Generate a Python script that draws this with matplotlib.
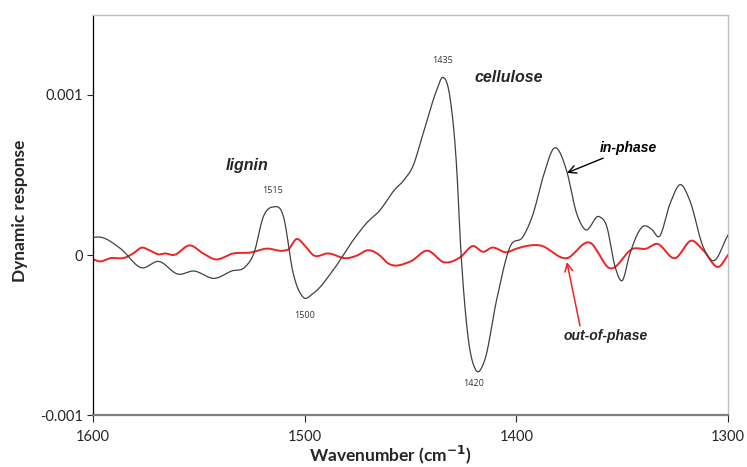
import numpy as np
import matplotlib
matplotlib.use("Agg")
import matplotlib.pyplot as plt

# In-phase (real) dynamic spectrum, wavenumber in cm-1
inphase_wn = [1600, 1596.7, 1587, 1577, 1569, 1559.7, 1552.6, 1542.4, 1534.5, 1528,
              1524, 1519.5, 1515, 1510, 1505.4, 1500.6, 1496, 1486.5, 1477, 1470.7,
              1464.4, 1458, 1453, 1449, 1444, 1437.6, 1434.8, 1431.4, 1428.2, 1426.2, 1423,
              1419.3, 1415, 1409.3, 1403, 1396.8, 1392, 1387.3, 1381.8, 1376.3, 1371.5,
              1367.6, 1360.8, 1357.3, 1353.4, 1350, 1346.3, 1340, 1336, 1332.5, 1327.4,
              1322.4, 1318, 1311.7, 1307, 1300]
inphase = [0.00011, 0.000112, 0.00004, -0.00008, -0.00004, -0.00012, -0.0001, -0.000146,
           -0.0001, -0.000073, 0.00001, 0.00024, 0.0003, 0.00024, -0.000115, -0.000265,
           -0.00024, -0.000094, 0.000094, 0.0002, 0.00028, 0.0004, 0.00047, 0.00055,
           0.00076, 0.00103, 0.00111, 0.00099, 0.00055, 0.00003, -0.00049, -0.000715,
           -0.00066, -0.00028, 0.00005, 0.000115, 0.00026, 0.00049, 0.00067, 0.00053,
           0.00026, 0.00016, 0.00024, 0.00018, -0.00007, -0.00016, 0.00001, 0.00018,
           0.00016, 0.000115, 0.00032, 0.00044, 0.00034, 0.00005, -0.000036, 0.000125]

# Out-of-phase (imaginary) dynamic spectrum
outphase_wn = [1600, 1596.7, 1592, 1585, 1581, 1577, 1573, 1569, 1566, 1562, 1554, 1548,
               1542.4, 1533.7, 1525.8, 1518, 1510, 1507.7, 1503.8, 1500, 1496, 1488.9,
               1480, 1475.4, 1470, 1464.4, 1461, 1450, 1442, 1434, 1426.6, 1420.4,
               1415.6, 1411.6, 1404.6, 1399.9, 1388.8, 1376.3, 1365.2, 1355.8, 1344.8,
               1338.5, 1333.8, 1325, 1317, 1311.7, 1304.2, 1300]
outphase = [-0.000027, -0.00004, -0.00002, -0.000017, 0.00001, 0.000046, 0.000027,
            0.000004, 0.00001, 0.0, 0.00006, 0.00001, -0.000027, 0.00001, 0.000015,
            0.00004, 0.000027, 0.000035, 0.0001, 0.00006, 0.0, 0.00001, -0.00002,
            -0.000004, 0.00003, -0.000004, -0.000048, -0.00004, 0.000027, -0.000046,
            -0.000015, 0.000056, 0.00002, 0.000046, 0.000017, 0.00004, 0.00006,
            -0.00002, 0.000077, -0.000083, 0.00004, 0.00004, 0.00007, -0.00002,
            0.00009, 0.00003, -0.000073, 0.0]

# Labelled band positions
band_wn = [1515, 1500, 1435, 1420]
band_labels = ["1515", "1500", "1435", "1420"]


def smooth(x, y, n=16):
    """Cubic Hermite curve through the points (smoothed line, single-valued in x)."""
    x = np.asarray(x, float)
    y = np.asarray(y, float)
    h = np.diff(x)
    d = np.diff(y) / h
    m = np.empty_like(y)
    m[0], m[-1] = d[0], d[-1]
    m[1:-1] = (d[:-1] * h[1:] + d[1:] * h[:-1]) / (h[:-1] + h[1:])
    t = np.linspace(0, 1, n, endpoint=False)
    h00 = 2 * t**3 - 3 * t**2 + 1
    h10 = t**3 - 2 * t**2 + t
    h01 = -2 * t**3 + 3 * t**2
    h11 = t**3 - t**2
    xs, ys = [], []
    for i in range(len(x) - 1):
        xs.append(x[i] + t * h[i])
        ys.append(h00 * y[i] + h10 * h[i] * m[i] + h01 * y[i + 1] + h11 * h[i] * m[i + 1])
    xs.append([x[-1]])
    ys.append([y[-1]])
    return np.concatenate(xs), np.concatenate(ys)


plt.rcParams["font.family"] = ["Lato", "DejaVu Sans"]

fig = plt.figure(figsize=(7.47, 4.67), dpi=100)
ax = fig.add_axes([0.1245, 0.1113, 0.85, 0.8566])

sx, sy = smooth(inphase_wn, inphase)
ax.plot(sx, sy, color="#404040", lw=0.9, zorder=3)
rx, ry = smooth(outphase_wn, outphase)
ax.plot(rx, ry, color="#ee2424", lw=1.4, zorder=2)

ax.set_xlim(1600, 1300)
ax.set_ylim(-0.001, 0.0015)
ax.set_xticks([1600, 1500, 1400, 1300])
ax.set_yticks([-0.001, 0, 0.001])
ax.set_yticklabels(["-0.001", "0", "0.001"])
ax.tick_params(axis="both", direction="out", labelsize=10.5, colors="#262626", width=0.8)
ax.tick_params(axis="x", length=5, pad=6)
ax.tick_params(axis="y", length=4, pad=3)

ax.spines["left"].set_color("#000000")
ax.spines["left"].set_linewidth(0.9)
ax.spines["bottom"].set_color("#7f7f7f")
ax.spines["bottom"].set_linewidth(1.6)
for s in ("top", "right"):
    ax.spines[s].set_color("#bfbfbf")
    ax.spines[s].set_linewidth(1.0)

ax.set_ylabel("Dynamic response", fontsize=12.5, fontweight="bold", color="#262626")
ax.yaxis.set_label_coords(-0.103, 0.51)
ax.set_xlabel("Wavenumber (cm$^{\\mathbf{-1}}$)", fontsize=12.5, fontweight="bold",
              color="#262626")
ax.xaxis.set_label_coords(0.469, -0.072)

# Band position labels beside the peaks and troughs of the in-phase curve
band_val = np.interp(band_wn, sx[::-1], sy[::-1])
offsets = [9, -9, 9, -9]
for wn, v, lab, off in zip(band_wn, band_val, band_labels, offsets):
    ax.annotate(lab, (wn, v), xytext=(0, off), textcoords="offset points",
                ha="center", va="bottom" if off > 0 else "top",
                fontsize=6.5, color="#333333", family="Open Sans")

ax.text(1527, 0.00056, "lignin", fontsize=11.5, fontweight="bold", style="italic",
        family="Liberation Sans", color="#262626", ha="center", va="center")
ax.text(1403.5, 0.00111, "cellulose", fontsize=11.5, fontweight="bold", style="italic",
        family="Liberation Sans", color="#262626", ha="center", va="center")

ax.annotate("in-phase", xy=(1376.1, 0.000513), xytext=(1360.5, 0.00067),
            fontsize=10, fontweight="bold", style="italic", family="Liberation Sans",
            color="#000000", ha="left", va="center",
            arrowprops=dict(arrowstyle="->", color="#000000", lw=1.0,
                            shrinkA=1, shrinkB=0, mutation_scale=14))
ax.annotate("out-of-phase", xy=(1376.1, -0.000044), xytext=(1357.7, -0.00046),
            fontsize=10, fontweight="bold", style="italic", family="Liberation Sans",
            color="#262626", ha="center", va="top",
            arrowprops=dict(arrowstyle="->", color="#ee2424", lw=1.1,
                            shrinkA=0, shrinkB=0, mutation_scale=14,
                            relpos=(0.2, 1.0)))

fig.savefig("out.png", dpi=100)
